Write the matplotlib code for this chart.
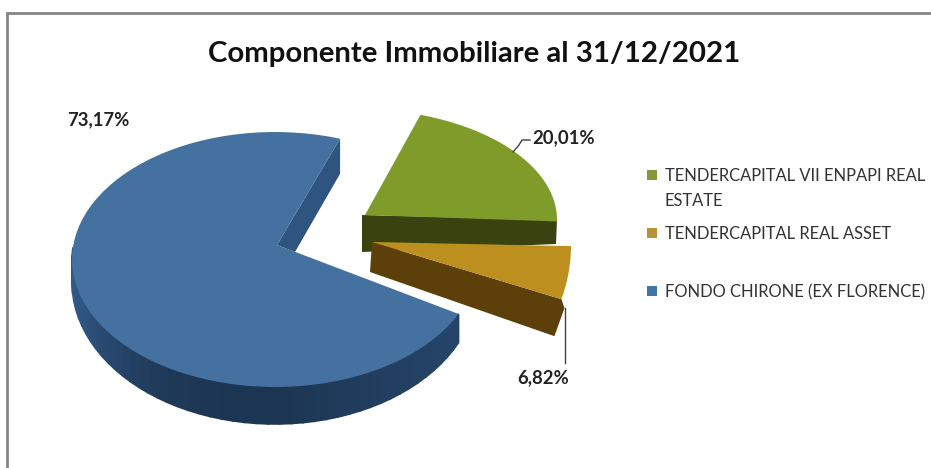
import numpy as np
import matplotlib
matplotlib.use("Agg")
import matplotlib.pyplot as plt
from matplotlib.patches import Polygon, Rectangle
from matplotlib.colors import to_rgb

plt.rcParams['font.family'] = ['Lato', 'DejaVu Sans']

# dati
categorie = ["TENDERCAPITAL VII ENPAPI REAL\nESTATE", "TENDERCAPITAL REAL ASSET", "FONDO CHIRONE (EX FLORENCE)"]
valori = [20.01, 6.82, 73.17]
etichette = ["20,01%", "6,82%", "73,17%"]
titolo = "Componente Immobiliare al 31/12/2021"

col_top = ["#7f9c2b", "#bd8f1e", "#44719f"]
col_side = ["#3a4310", "#5c3f09", "#1c3552"]
col_leg = ["#85993a", "#b8923a", "#3f76a8"]

fig = plt.figure(figsize=(9.31, 4.68), dpi=100)
ax = fig.add_axes([0, 0, 1, 1])
ax.set_xlim(0, 931)
ax.set_ylim(468, 0)
ax.axis('off')

# cornice del grafico
ax.plot([6.5, 6.5, 931], [468, 13, 13], color="#858585", lw=2, solid_joinstyle='miter')

# angoli in senso orario dall'alto, presi dai valori
inizio = 18.7
gradi = np.array(valori) / sum(valori) * 360
a0 = inizio + np.concatenate([[0], np.cumsum(gradi)[:-1]])
a1 = a0 + gradi


def arco(cx, cy, a, b, t0, t1, n=120):
    t = np.radians(np.linspace(t0, t1, n))
    return np.column_stack([cx + a * np.sin(t), cy - b * np.cos(t)])


# --- fetta verde ---
arco_g = arco(356, 220, 201, 111, a0[0], a1[0])
ax.add_patch(Polygon([(362, 215), (557, 220), (556, 244), (362, 252)], fc=col_side[0], ec='none'))
ax.add_patch(Polygon(np.vstack([[(365, 215)], arco_g]), fc=col_top[0], ec='none'))

# --- fetta oro ---
arco_o = arco(471, 244.5, 100, 128, a0[1], a1[1])
p_giu = arco_o[-1]
ax.add_patch(Polygon([(372, 242), p_giu, p_giu + (3, 9), p_giu + (-7, 37), (370, 272)], fc=col_side[1], ec='none'))
ax.add_patch(Polygon(np.vstack([[(372, 242)], arco_o]), fc=col_top[1], ec='none'))

# --- fetta blu ---
t_blu = np.linspace(a0[2], a1[2], 80)
alto = arco(275, 259.5, 203, 127.5, a0[2], a1[2], 80)
basso = arco(275, 282, 203, 142, a0[2], a1[2], 80)
c_chiaro = np.array(to_rgb("#325a88"))
c_scuro = np.array(to_rgb(col_side[2]))
for i in range(79):
    s = np.sin(np.radians(t_blu[i]))
    c = np.cos(np.radians(t_blu[i]))
    if c > 0.05:  # lato posteriore, non visibile
        continue
    # piu chiaro verso il bordo sinistro
    f = abs(s) ** 3 if s < 0 else 0.45 * s
    col = c_scuro + (c_chiaro - c_scuro) * f
    ax.add_patch(Polygon([alto[i], alto[i + 1], basso[i + 1], basso[i]], fc=col, ec=col, lw=1.2))
# parete interna
ax.add_patch(Polygon([(277, 245), alto[-1], alto[-1] + (0, 35), (295, 252)], fc="#2f5480", ec='none'))
ax.add_patch(Polygon(np.vstack([[(277, 245)], alto]), fc=col_top[2], ec='none'))

# linee guida etichette
ax.plot([513, 519, 522, 530], [152, 145, 140, 140], color="#404040", lw=1)
ax.plot([564.5, 564.5], [308, 363], color="#404040", lw=1)

# testi
ax.text(474.5, 54, titolo, fontsize=21.2, fontweight='bold', ha='center', va='center', color="#111111")
ax.text(532, 138, etichette[0], fontsize=13.3, fontweight='bold', ha='left', va='center', color="#222222")
ax.text(543, 378, etichette[1], fontsize=13.3, fontweight='bold', ha='center', va='center', color="#222222")
ax.text(98, 120, etichette[2], fontsize=13.3, fontweight='bold', ha='center', va='center', color="#222222")

# legenda
y_leg = [175, 233, 291]
for cat, col, y in zip(categorie, col_leg, y_leg):
    ax.add_patch(Rectangle((647, y - 5), 10, 10, fc=col, ec='none'))
    righe = cat.split("\n")
    for k, r in enumerate(righe):
        ax.text(665, y + 1 + k * 24.5, r, fontsize=11.9, ha='left', va='center', color="#333333")

fig.savefig("out.png", dpi=100, facecolor='white')
